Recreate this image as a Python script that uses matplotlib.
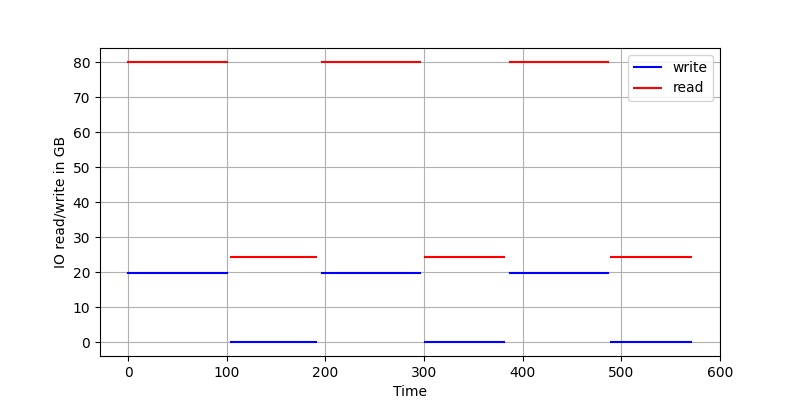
import matplotlib
matplotlib.use("Agg")
import matplotlib.pyplot as plt

# phase boundaries (time) and IO amounts per phase in GB
phase_start = [0, 104, 197, 301, 387, 490]
phase_end = [100, 190, 296, 381, 486, 571]
write_gb = [19.7, 0.1, 19.7, 0.1, 19.7, 0.1]
read_gb = [80, 24.3, 80, 24.3, 80, 24.3]

fig, ax = plt.subplots(figsize=(8, 4), dpi=100)

for i in range(len(phase_start)):
    xs = [phase_start[i], phase_end[i]]
    ax.plot(xs, [write_gb[i]] * 2, color="blue", label="write" if i == 0 else None)
    ax.plot(xs, [read_gb[i]] * 2, color="red", label="read" if i == 0 else None)

ax.set_xlabel("Time")
ax.set_ylabel("IO read/write in GB")
ax.set_xticks([0, 100, 200, 300, 400, 500, 600])
ax.grid(True)
ax.legend(loc="upper right")

plt.savefig("out.png")
